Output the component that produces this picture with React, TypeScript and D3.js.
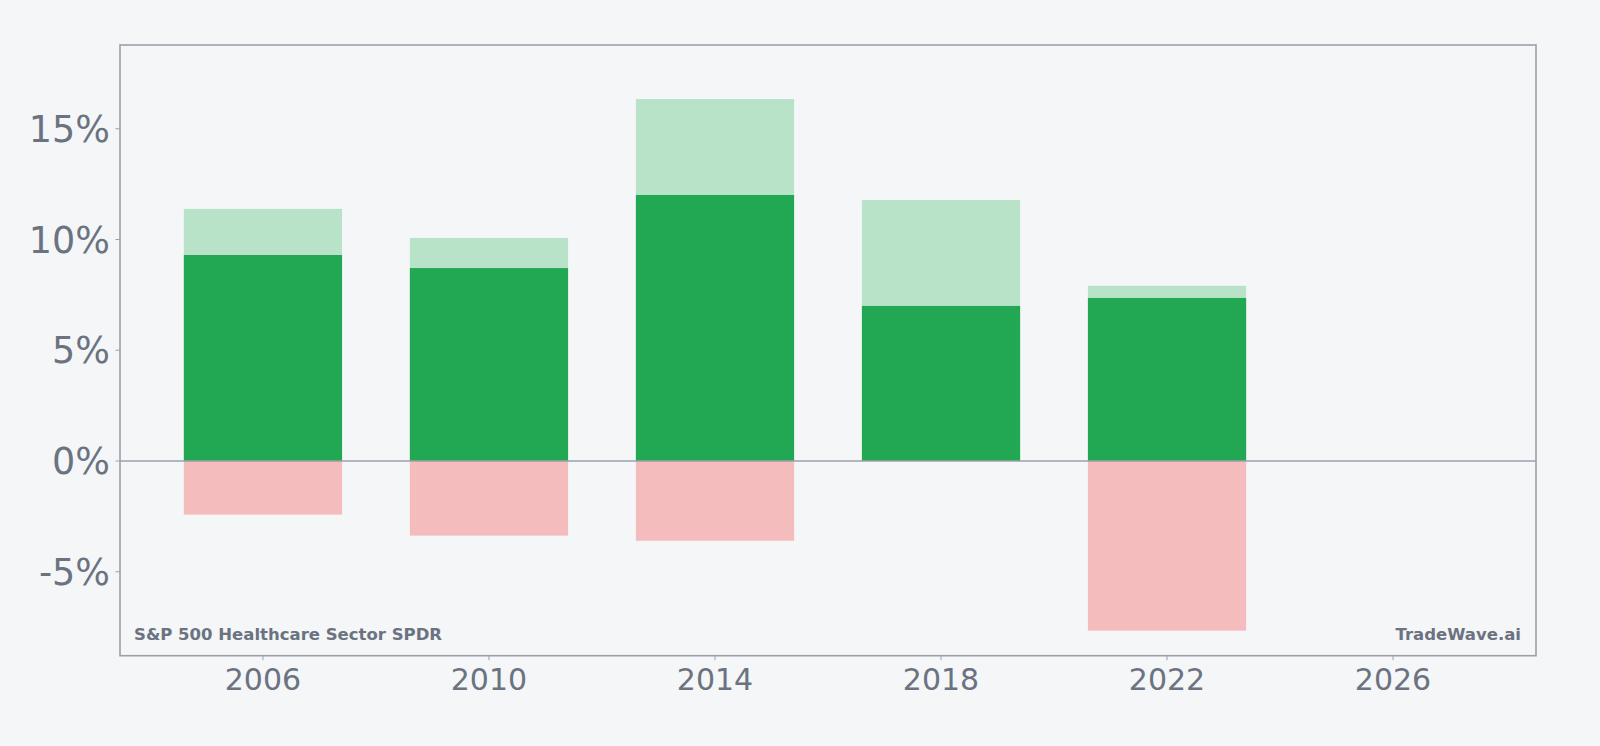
import React from "react";
import * as d3 from "d3";

const years = [2006, 2010, 2014, 2018, 2022];
const highValues = [11.38, 10.07, 16.34, 11.78, 7.91];
const midValues = [9.3, 8.71, 12.01, 7.0, 7.36];
const lowValues = [-2.42, -3.37, -3.6, 0, -7.66];
const yTicks = [-5, 0, 5, 10, 15];
const xTicks = [2006, 2010, 2014, 2018, 2022, 2026];

const W = 1600;
const H = 746;
const left = 120;
const right = 1536;
const top = 45;
const bottom = 655.7;

const BG = "#f4f6f8";
const TEXT = "#6b7280";
const FRAME = "#9ca0ab";
const DARK = "#22a853";
const LIGHT = "#b9e3c9";
const PINK = "#f4bcbc";
const FONT = "'DejaVu Sans', sans-serif";

export default function App() {
  const x = d3.scaleLinear().domain([2003.47, 2028.53]).range([left, right]);
  const y = d3.scaleLinear().domain([-8.79, 18.78]).range([bottom, top]);
  const barW = x(2.8) - x(0);

  return (
    <svg
      width={W}
      height={H}
      style={{ position: "absolute", left: 0, top: 0, background: BG }}
    >
      <rect x={0} y={0} width={W} height={H} fill={BG} />
      {years.map((yr, i) => (
        <g key={yr}>
          <rect
            x={x(yr) - barW / 2}
            width={barW}
            y={y(highValues[i])}
            height={y(0) - y(highValues[i])}
            fill={LIGHT}
          />
          <rect
            x={x(yr) - barW / 2}
            width={barW}
            y={y(midValues[i])}
            height={y(0) - y(midValues[i])}
            fill={DARK}
          />
          {lowValues[i] < 0 && (
            <rect
              x={x(yr) - barW / 2}
              width={barW}
              y={y(0)}
              height={y(lowValues[i]) - y(0)}
              fill={PINK}
            />
          )}
        </g>
      ))}
      <line x1={left} x2={right} y1={y(0)} y2={y(0)} stroke={FRAME} strokeWidth={1.6} />
      <rect
        x={left}
        y={top}
        width={right - left}
        height={bottom - top}
        fill="none"
        stroke={FRAME}
        strokeWidth={1.6}
      />
      {yTicks.map((t) => (
        <g key={t}>
          <line x1={left - 4.5} x2={left} y1={y(t)} y2={y(t)} stroke={FRAME} strokeWidth={1} />
          <text
            x={left - 10}
            y={y(t)}
            dy="0.36em"
            textAnchor="end"
            fontFamily={FONT}
            fontSize={36.5}
            fill={TEXT}
          >
            {`${t}%`}
          </text>
        </g>
      ))}
      {xTicks.map((t) => (
        <g key={t}>
          <line x1={x(t)} x2={x(t)} y1={bottom} y2={bottom + 4.5} stroke={FRAME} strokeWidth={1} />
          <text
            x={x(t)}
            y={690}
            textAnchor="middle"
            fontFamily={FONT}
            fontSize={30}
            fill={TEXT}
          >
            {t}
          </text>
        </g>
      ))}
      <text x={134} y={640} fontFamily={FONT} fontWeight="bold" fontSize={16.5} fill={TEXT}>
        S&amp;P 500 Healthcare Sector SPDR
      </text>
      <text
        x={1521}
        y={640}
        textAnchor="end"
        fontFamily={FONT}
        fontWeight="bold"
        fontSize={16.5}
        fill={TEXT}
      >
        TradeWave.ai
      </text>
    </svg>
  );
}
